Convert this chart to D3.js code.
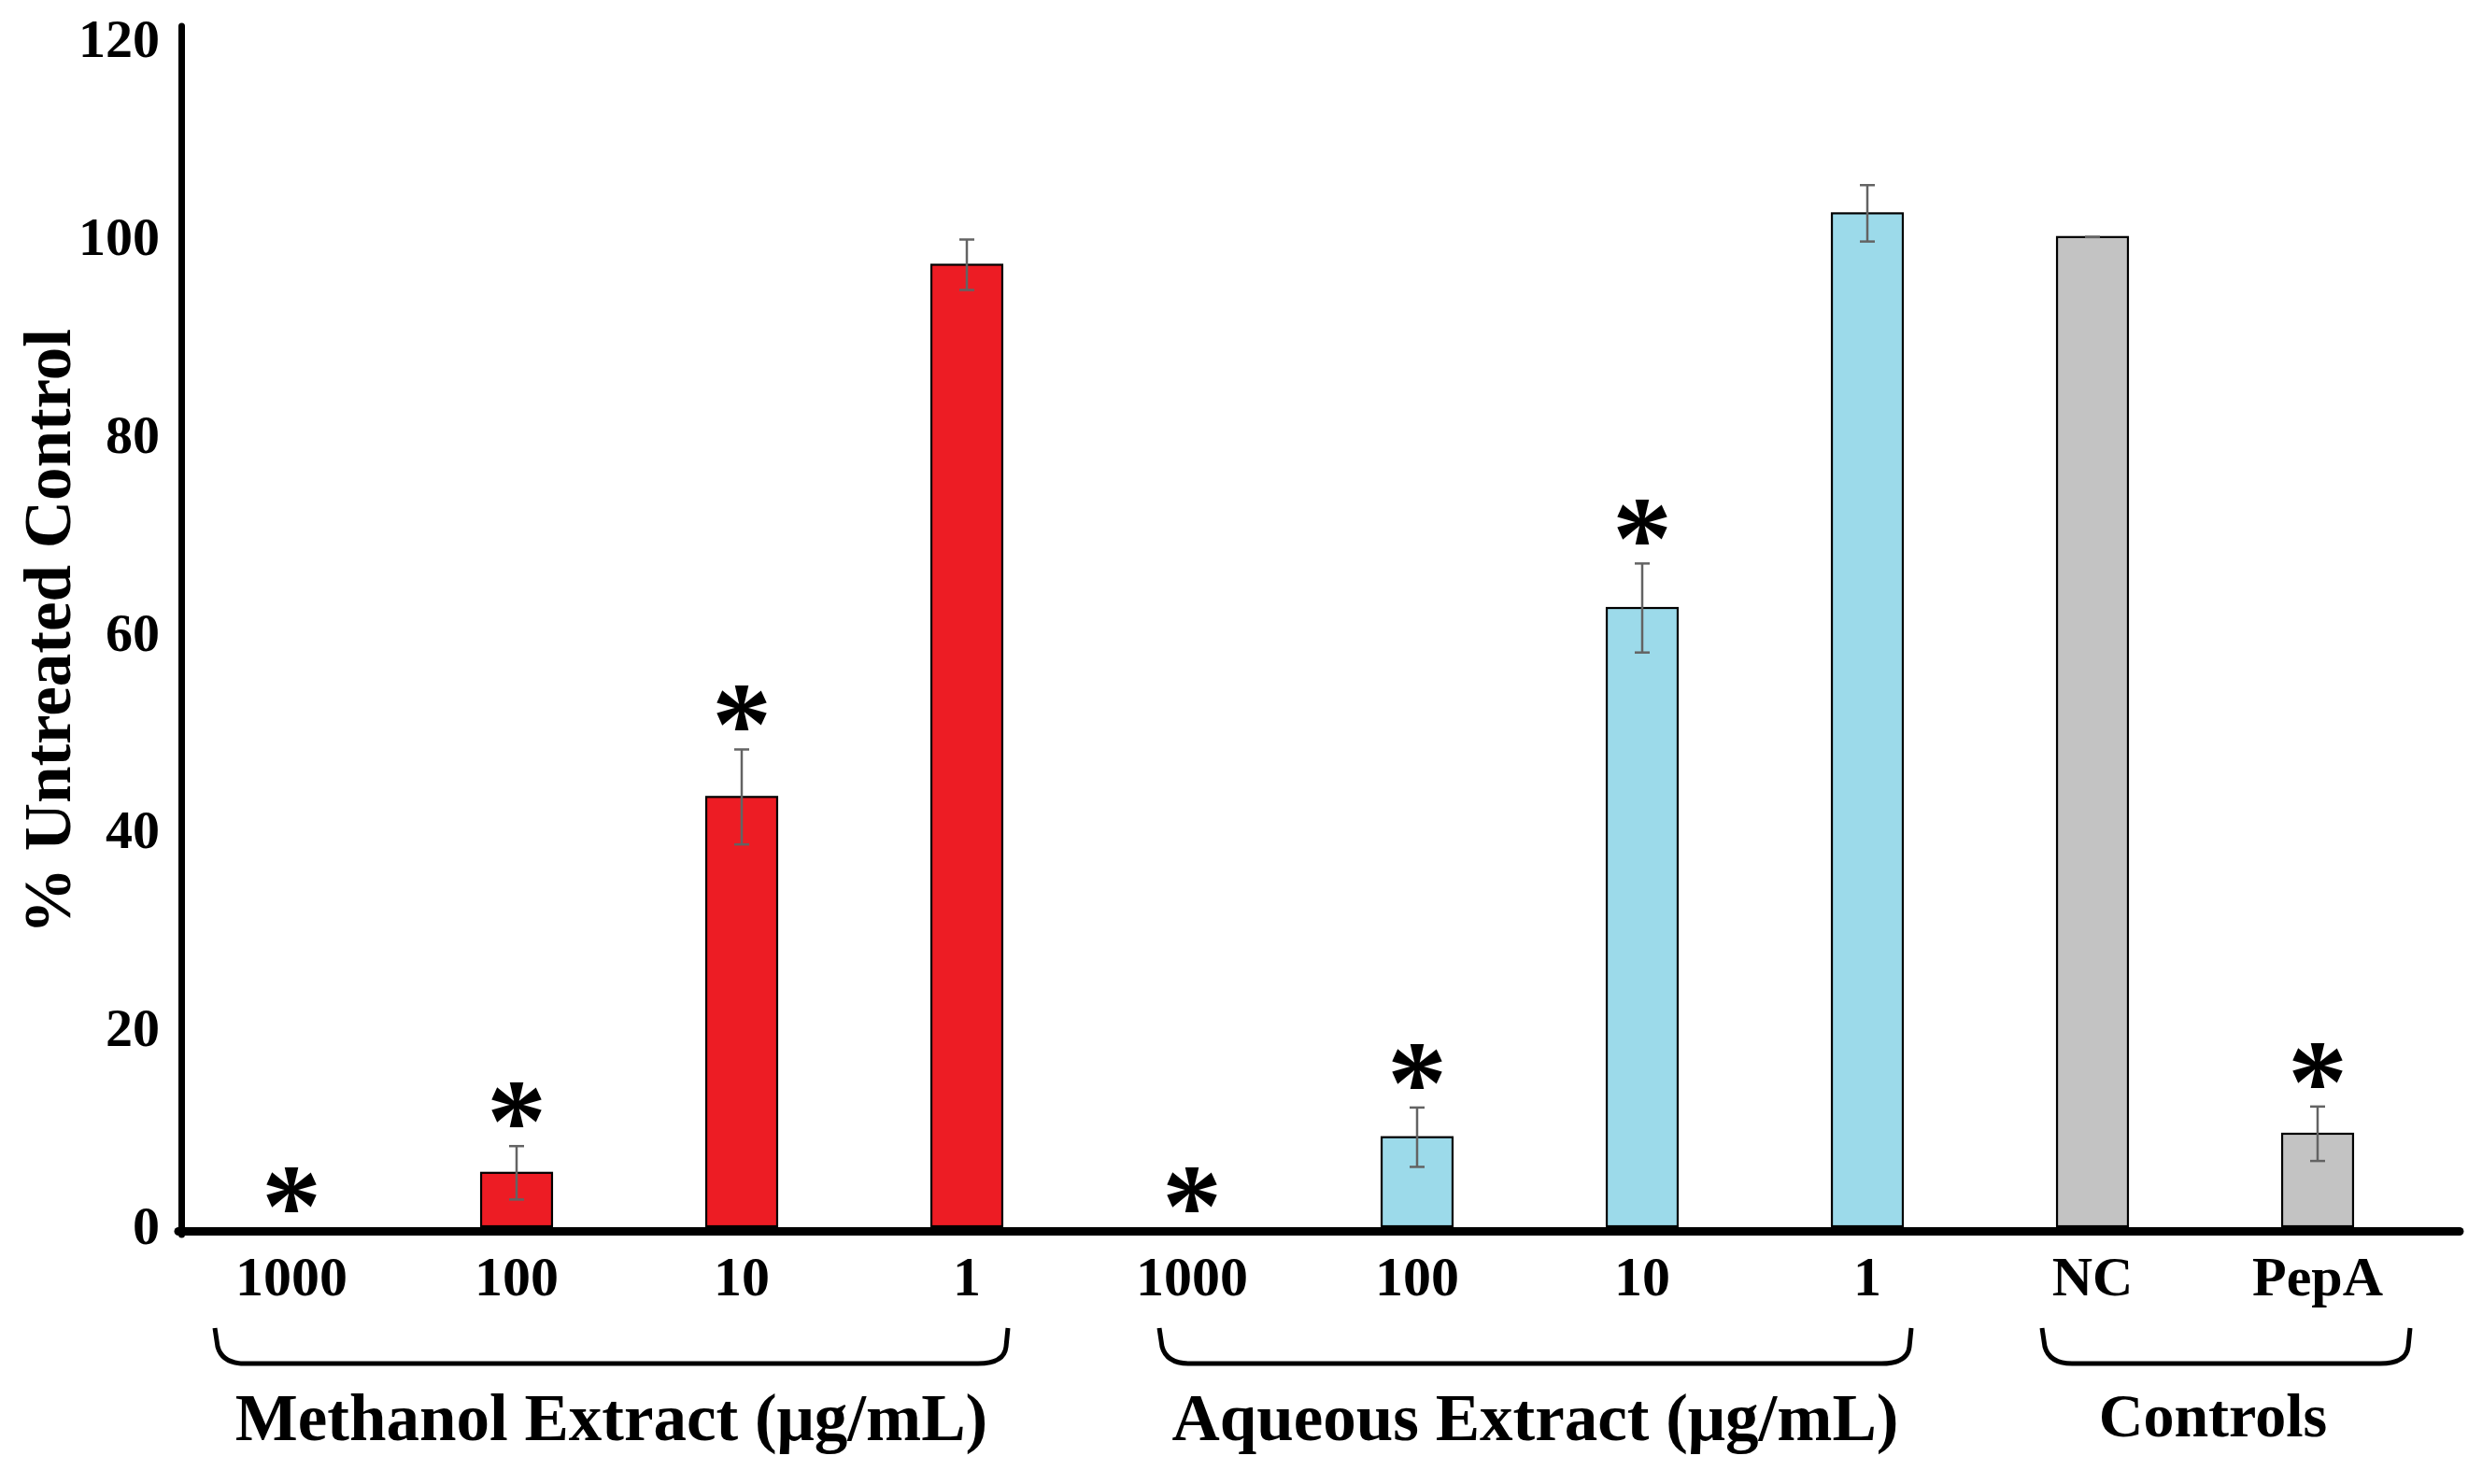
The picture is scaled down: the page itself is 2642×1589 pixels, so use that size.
<!DOCTYPE html>
<html>
<head>
<meta charset="utf-8">
<script src="https://cdn.jsdelivr.net/npm/d3@7"></script>
<style>
  body { margin: 0; background: #fff; }
  svg { display: block; }
  text { font-family: "Liberation Serif", "Times New Roman", serif; font-weight: bold; fill: #000; }
</style>
</head>
<body>
<svg id="chart" width="2642" height="1589"></svg>
<script>
'use strict';

// data
const categories = ['1000', '100', '10', '1', '1000', '100', '10', '1', 'NC', 'PepA'];
const groupOf = ['methanol', 'methanol', 'methanol', 'methanol', 'aqueous', 'aqueous', 'aqueous', 'aqueous', 'control', 'control'];
const values = [0, 5.4, 43.4, 97.2, 0, 9.0, 62.5, 102.4, 100, 9.35];
const errors = [0, 2.7, 4.8, 2.55, 0, 3.0, 4.5, 2.85, 0, 2.75];
const significant = [true, true, true, false, true, true, true, false, false, true];
const groupNames = ['methanol', 'aqueous', 'control'];
const groupLabels = ['Methanol Extract (μg/mL)', 'Aqueous Extract (μg/mL)', 'Controls'];
const yTicks = [0, 20, 40, 60, 80, 100, 120];

const colours = { methanol: '#ED1C24', aqueous: '#9CDAEA', control: '#C3C3C3' };

const svg = d3.select('#chart');
const idx = d3.range(categories.length);

const y = d3.scaleLinear().domain([0, 120]).range([1313, 42]);
const x = d3.scaleBand().domain(idx).range([191.5, 2601.5])
    .paddingInner(0.685).paddingOuter(0.3425);
const bw = x.bandwidth();
const cx = i => x(i) + bw / 2;

// y tick labels
const yAxis = svg.append('g')
    .attr('transform', `translate(195,0)`)
    .call(d3.axisLeft(y).tickValues(yTicks).tickSize(0).tickPadding(24));
yAxis.select('.domain').remove();
yAxis.selectAll('text').style('font-size', '58px').attr('font-family', null);

// x tick labels
const xAxis = svg.append('g')
    .attr('transform', `translate(0,${y(0)})`)
    .call(d3.axisBottom(x).tickFormat(i => categories[i]).tickSize(0).tickPadding(31));
xAxis.select('.domain').remove();
xAxis.selectAll('text').style('font-size', '60px').attr('font-family', null);

// bars
svg.append('g').selectAll('rect')
    .data(idx.filter(i => values[i] > 0))
    .join('rect')
    .attr('x', i => x(i))
    .attr('y', i => y(values[i]))
    .attr('width', bw)
    .attr('height', i => y(0) - y(values[i]))
    .attr('fill', i => colours[groupOf[i]])
    .attr('stroke', '#000')
    .attr('stroke-width', 2.2);

// error bars
const eb = svg.append('g').attr('stroke', '#636363').attr('stroke-width', 2.5);
idx.filter(i => values[i] > 0).forEach(i => {
    const hi = y(values[i] + errors[i]), lo = y(values[i] - errors[i]);
    eb.append('line').attr('x1', cx(i)).attr('x2', cx(i)).attr('y1', hi).attr('y2', lo);
    eb.append('line').attr('x1', cx(i) - 8).attr('x2', cx(i) + 8).attr('y1', hi).attr('y2', hi);
    eb.append('line').attr('x1', cx(i) - 8).attr('x2', cx(i) + 8).attr('y1', lo).attr('y2', lo);
});

// axis lines
svg.append('line')
    .attr('x1', 194.5).attr('x2', 194.5).attr('y1', 28).attr('y2', y(0) + 9)
    .attr('stroke', '#000').attr('stroke-width', 7).attr('stroke-linecap', 'round');
svg.append('line')
    .attr('x1', 191).attr('x2', 2633).attr('y1', y(0) + 5.5).attr('y2', y(0) + 5.5)
    .attr('stroke', '#000').attr('stroke-width', 9).attr('stroke-linecap', 'round');

// significance asterisks
svg.append('g').selectAll('text')
    .data(idx.filter(i => significant[i]))
    .join('text')
    .attr('x', cx)
    .attr('y', i => (values[i] > 0 ? y(values[i] + errors[i]) - 20 : y(0) - 15) + 36)
    .attr('text-anchor', 'middle')
    .style('font-size', '128px')
    .text('*');

// group braces + labels
const braceOffsets = { methanol: [82, 44], aqueous: [35, 47], control: [54, 99] };
const labelSize = { methanol: 71, aqueous: 71, control: 66 };
const braceTop = 1422, braceBottom = 1460;
groupNames.forEach((g, k) => {
    const members = idx.filter(i => groupOf[i] === g);
    const l = cx(members[0]) - braceOffsets[g][0];
    const r = cx(members[members.length - 1]) + braceOffsets[g][1];
    const p = d3.path();
    p.moveTo(l, braceTop);
    p.lineTo(l + 3, braceBottom - 18);
    p.quadraticCurveTo(l + 8, braceBottom, l + 32, braceBottom);
    p.lineTo(r - 32, braceBottom);
    p.quadraticCurveTo(r - 4, braceBottom, r - 2, braceBottom - 18);
    p.lineTo(r, braceTop);
    svg.append('path').attr('d', p.toString())
        .attr('fill', 'none').attr('stroke', '#000').attr('stroke-width', 5);
    svg.append('text')
        .attr('x', g === 'control' ? (l + r) / 2 - 14 : (l + r) / 2)
        .attr('y', g === 'control' ? 1538 : 1542)
        .attr('text-anchor', 'middle')
        .style('font-size', labelSize[g] + 'px')
        .text(groupLabels[k]);
});

// y title
svg.append('text')
    .attr('transform', 'translate(75,676) rotate(-90)')
    .attr('text-anchor', 'middle')
    .style('font-size', '71px')
    .text('% Untreated Control');
</script>
</body>
</html>
